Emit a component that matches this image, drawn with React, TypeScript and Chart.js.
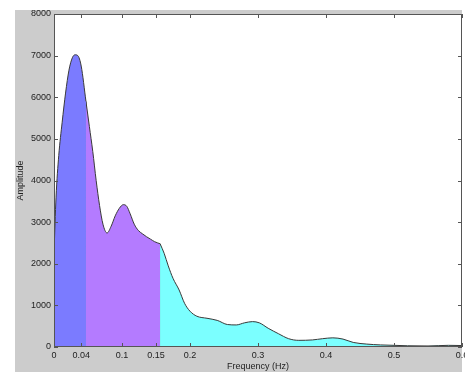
import React, { useEffect, useRef } from "react";
import { Chart, registerables } from "chart.js";

Chart.register(...registerables);

// Frequency bands (Hz) and amplitude
const vlfFreq = [0, 0.003, 0.007, 0.012, 0.017, 0.022, 0.027, 0.031, 0.035, 0.04, 0.047];
const vlfAmp = [2250, 3600, 4600, 5400, 6100, 6650, 6950, 7020, 7000, 6750, 5900];

const lfFreq = [0.047, 0.052, 0.057, 0.062, 0.067, 0.072, 0.078, 0.084, 0.09, 0.096, 0.102, 0.107, 0.112, 0.118, 0.124, 0.13, 0.136, 0.142, 0.148, 0.156];
const lfAmp = [5900, 5300, 4700, 4000, 3400, 2950, 2740, 2900, 3150, 3330, 3420, 3380, 3200, 2950, 2800, 2720, 2650, 2590, 2530, 2480];

const hfFreq = [0.156, 0.162, 0.168, 0.175, 0.184, 0.192, 0.2, 0.21, 0.225, 0.24, 0.255, 0.268, 0.28, 0.292, 0.302, 0.315, 0.33, 0.345, 0.36, 0.38, 0.395, 0.41, 0.425, 0.44, 0.46, 0.48, 0.5, 0.52, 0.55, 0.58, 0.6];
const hfAmp = [2480, 2250, 1950, 1650, 1370, 1050, 860, 740, 690, 640, 540, 530, 580, 610, 580, 450, 320, 200, 160, 170, 200, 220, 190, 110, 70, 50, 40, 30, 25, 40, 35];

const xTickValues = [0, 0.04, 0.1, 0.15, 0.2, 0.3, 0.4, 0.5, 0.6];
const yTickStep = 1000;
const yMax = 8000;

const xTitle = "Frequency (Hz)";
const yTitle = "Amplitude";

const FONT = { family: "'Liberation Sans', Arial, sans-serif", size: 9 };
const LINE = "#3a3a3a";

const pts = (xs: number[], ys: number[]) => xs.map((x, i) => ({ x, y: ys[i] }));
const edge = (xs: number[], ys: number[]) => {
  const i = xs.length - 1;
  return [{ x: xs[i], y: 0 }, { x: xs[i], y: ys[i] }];
};

const framePlugin = {
  id: "frame",
  beforeDraw(chart: any) {
    const { ctx, chartArea: a } = chart;
    ctx.save();
    ctx.fillStyle = "#ffffff";
    ctx.fillRect(0, 0, chart.width, chart.height);
    ctx.fillStyle = "#cccccc";
    ctx.fillRect(15, 10, a.right - 15, chart.height - 10);
    ctx.fillStyle = "#ffffff";
    ctx.fillRect(a.left, a.top, a.right - a.left, a.bottom - a.top);
    ctx.restore();
  },
  afterDraw(chart: any) {
    const { ctx, chartArea: a, scales } = chart;
    ctx.save();
    ctx.strokeStyle = "#555555";
    ctx.lineWidth = 1;
    ctx.strokeRect(a.left + 0.5, a.top + 0.5, a.right - a.left - 1, a.bottom - a.top - 1);
    ctx.beginPath();
    const t = 4;
    scales.x.ticks.forEach((tk: any) => {
      const px = Math.round(scales.x.getPixelForValue(tk.value)) + 0.5;
      ctx.moveTo(px, a.bottom);
      ctx.lineTo(px, a.bottom - t);
      ctx.moveTo(px, a.top);
      ctx.lineTo(px, a.top + t);
    });
    scales.y.ticks.forEach((tk: any) => {
      const py = Math.round(scales.y.getPixelForValue(tk.value)) + 0.5;
      ctx.moveTo(a.left, py);
      ctx.lineTo(a.left + t, py);
      ctx.moveTo(a.right, py);
      ctx.lineTo(a.right - t, py);
    });
    ctx.stroke();
    ctx.restore();
  },
};

export default function App() {
  const ref = useRef<HTMLCanvasElement>(null);

  useEffect(() => {
    if (!ref.current) return;
    const area = (data: any[], color: string) => ({
      data,
      backgroundColor: color,
      borderColor: LINE,
      borderWidth: 1,
      fill: "origin",
      pointRadius: 0,
      cubicInterpolationMode: "monotone",
    });
    const vline = (data: any[]) => ({
      data,
      borderColor: LINE,
      borderWidth: 1,
      fill: false,
      pointRadius: 0,
      tension: 0,
    });
    const chart = new Chart(ref.current, {
      type: "line",
      data: {
        datasets: [
          area(pts(vlfFreq, vlfAmp), "#7b7bff") as any,
          area(pts(lfFreq, lfAmp), "#b47bff") as any,
          area(pts(hfFreq, hfAmp), "#7bffff") as any,
          vline(edge(vlfFreq, vlfAmp)) as any,
          vline(edge(lfFreq, lfAmp)) as any,
        ],
      },
      options: {
        animation: false,
        responsive: false,
        devicePixelRatio: 1,
        layout: { padding: { top: 14, left: 0, right: 28, bottom: 0 } },
        plugins: { legend: { display: false }, tooltip: { enabled: false } },
        scales: {
          x: {
            type: "linear",
            min: 0,
            max: 0.6,
            grid: { display: false, drawTicks: false },
            border: { display: false },
            afterBuildTicks: (s: any) => {
              s.ticks = xTickValues.map((v) => ({ value: v }));
            },
            afterFit: (s: any) => {
              s.height = 25;
            },
            ticks: {
              autoSkip: false,
              maxRotation: 0,
              padding: 3,
              color: "#222",
              font: FONT,
              callback: (v: any) => String(Number(v)),
            },
            title: { display: true, text: xTitle, color: "#222", font: FONT, padding: { top: 0, bottom: 0 } },
          },
          y: {
            min: 0,
            max: yMax,
            grid: { display: false, drawTicks: false },
            border: { display: false },
            afterFit: (s: any) => {
              s.width = 54;
            },
            ticks: {
              stepSize: yTickStep,
              padding: 3,
              color: "#222",
              font: FONT,
              callback: (v: any) => String(Number(v)),
            },
            title: { display: true, text: yTitle, color: "#222", font: FONT, padding: { top: 15, bottom: 0 } },
          },
        },
      },
      plugins: [framePlugin],
    });
    return () => chart.destroy();
  }, []);

  return (
    <div style={{ position: "fixed", left: 0, top: 0, width: 465, height: 372, overflow: "hidden", background: "#fff" }}>
      <canvas ref={ref} width={490} height={372} style={{ display: "block", width: 490, height: 372 }} />
    </div>
  );
}
